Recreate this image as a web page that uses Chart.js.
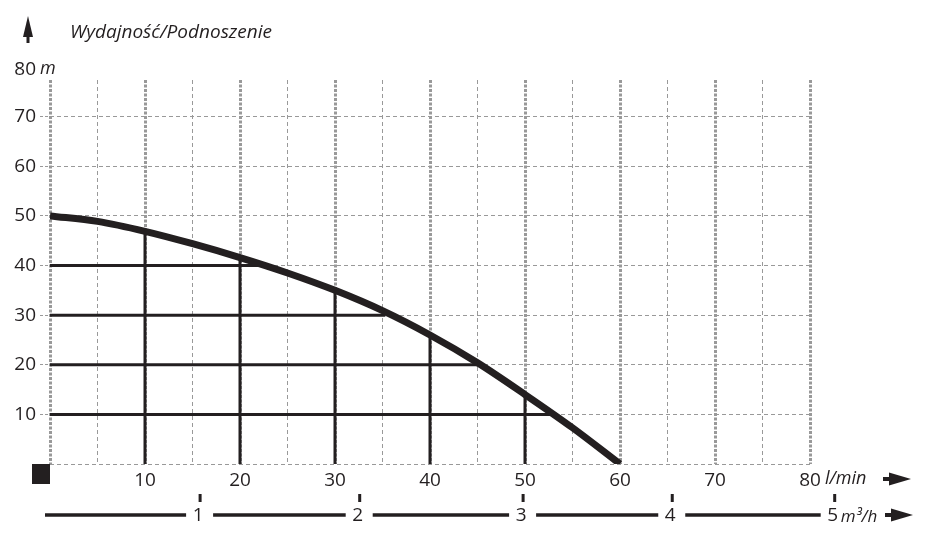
<!doctype html>
<html>
<head>
<meta charset="utf-8">
<title>Wydajność/Podnoszenie</title>
<script src="https://cdn.jsdelivr.net/npm/chart.js"></script>
<style>
  body { margin: 0; background: #fff; }
</style>
</head>
<body>
<canvas id="chart" width="931" height="547"></canvas>
<script>
// pump curve
var flowLpm = [0, 5, 10, 15, 20, 25, 30, 35, 40, 45, 50, 55, 60];
var headM   = [50, 48.9, 46.9, 44.4, 41.6, 38.5, 35, 30.9, 26, 20.4, 14, 7.3, 0];

// black helper lines: verticals from the floor to the curve, horizontals from the axis to the curve
var dropFlow     = [10, 20, 30, 40, 50];
var dropFlowHead = [46.9, 41.6, 35, 26, 14];
var dropHead     = [10, 20, 30, 40];
var dropHeadFlow = [53.4, 45.3, 35.3, 21.9];

// second scale (m3/h) printed under the l/min scale
var m3hLabels = ['1', '2', '3', '4', '5'];
var m3hAtLpm  = [15.8, 32.6, 49.8, 65.5, 82.6];

var titleText = 'Wydajność/Podnoszenie';
var unitY = 'm';
var unitX = 'l/min';
var unitX2 = 'm³/h';
var topLabel = 80;

var ink = '#231f20';
var gridGrey = '#999999';
var font = '"Open Sans", "DejaVu Sans", sans-serif';

var datasets = [{
  data: flowLpm.map(function(x, i) { return {x: x, y: headM[i]}; }),
  borderColor: ink,
  borderWidth: 7,
  pointRadius: 0,
  cubicInterpolationMode: 'monotone'
}];
dropFlow.forEach(function(x, i) {
  datasets.push({
    data: [{x: x, y: 0}, {x: x, y: dropFlowHead[i]}],
    borderColor: ink, borderWidth: 3, pointRadius: 0
  });
});
dropHead.forEach(function(y, i) {
  datasets.push({
    data: [{x: 0, y: y}, {x: dropHeadFlow[i], y: y}],
    borderColor: ink, borderWidth: 3, pointRadius: 0
  });
});

function arrowRight(ctx, x, y) {
  ctx.fillRect(x, y - 2, 12, 4);
  ctx.beginPath();
  ctx.moveTo(x + 6, y - 6.5);
  ctx.lineTo(x + 28, y);
  ctx.lineTo(x + 6, y + 6.5);
  ctx.closePath();
  ctx.fill();
}

var deco = {
  id: 'deco',
  afterDraw: function(chart) {
    var ctx = chart.ctx, xs = chart.scales.x, ys = chart.scales.y;
    ctx.save();
    ctx.fillStyle = ink;
    ctx.strokeStyle = ink;

    // up arrow + title
    ctx.beginPath();
    ctx.moveTo(28, 16);
    ctx.lineTo(33, 37);
    ctx.lineTo(23, 37);
    ctx.closePath();
    ctx.fill();
    ctx.fillRect(26.5, 36, 3, 7);
    ctx.textBaseline = 'middle';
    ctx.textAlign = 'left';
    ctx.font = 'italic 19px ' + font;
    ctx.fillText(titleText, 70, 33);

    // "80 m" above the grid
    var y80 = ys.getPixelForValue(topLabel) + 2;
    ctx.font = '19px ' + font;
    ctx.textAlign = 'right';
    ctx.fillText(String(topLabel), 36, y80);
    ctx.textAlign = 'left';
    ctx.font = 'italic 18px ' + font;
    ctx.fillText(unitY, 40, y80);

    // black square at origin
    ctx.fillRect(xs.left - 18, ys.bottom, 18, 20);

    // l/min unit + arrow
    var yl = 479;
    ctx.fillText(unitX, 825, yl);
    arrowRight(ctx, 883, yl);

    // m3/h scale
    var y2 = 515;
    var px = m3hAtLpm.map(function(v) { return xs.getPixelForValue(v); });
    ctx.lineWidth = 3.5;
    var start = xs.left - 5;
    px.forEach(function(p) {
      ctx.beginPath();
      ctx.moveTo(start, y2);
      ctx.lineTo(p - 14, y2);
      ctx.stroke();
      start = p + 13;
      ctx.fillRect(p - 1.5, 494, 3, 8);
    });
    ctx.font = '19px ' + font;
    ctx.textAlign = 'center';
    px.forEach(function(p, i) {
      ctx.fillText(m3hLabels[i], p - 2, y2 + 1);
    });
    ctx.textAlign = 'left';
    ctx.font = 'italic 17px ' + font;
    ctx.fillText(unitX2, px[px.length - 1] + 6, y2 + 2);
    arrowRight(ctx, 885, y2);
    ctx.restore();
  }
};

new Chart(document.getElementById('chart').getContext('2d'), {
  type: 'line',
  data: { datasets: datasets },
  plugins: [deco],
  options: {
    responsive: false,
    animation: false,
    layout: { padding: { top: 80, right: 121, left: 0, bottom: 0 } },
    plugins: { legend: { display: false }, tooltip: { enabled: false } },
    scales: {
      x: {
        type: 'linear',
        min: 0, max: 80,
        bounds: 'data',
        afterFit: function(s) { s.height = 83; },
        grid: {
          color: gridGrey,
          drawTicks: false,
          lineWidth: function(c) { return c.tick && c.tick.value % 10 === 0 ? 3 : 1; }
        },
        border: {
          display: false,
          dash: function(c) { return c.tick && c.tick.value % 10 === 0 ? [3, 1.5] : [4, 3]; }
        },
        ticks: {
          stepSize: 5,
          autoSkip: false,
          maxRotation: 0,
          padding: 5,
          color: ink,
          font: { family: font, size: 19 },
          callback: function(v) { return v % 10 === 0 && v !== 0 ? v : ''; }
        }
      },
      y: {
        min: 0, max: 77.4,
        bounds: 'data',
        afterFit: function(s) { s.width = 50; },
        grid: {
          color: gridGrey,
          lineWidth: 1,
          tickLength: 10,
          tickColor: gridGrey,
          tickBorderDash: [3, 2]
        },
        border: { display: false, dash: [4, 3] },
        ticks: {
          stepSize: 10,
          includeBounds: false,
          padding: 4,
          color: ink,
          font: { family: font, size: 19 },
          callback: function(v) { return v === 0 ? '' : v; }
        }
      }
    }
  }
});
</script>
</body>
</html>
